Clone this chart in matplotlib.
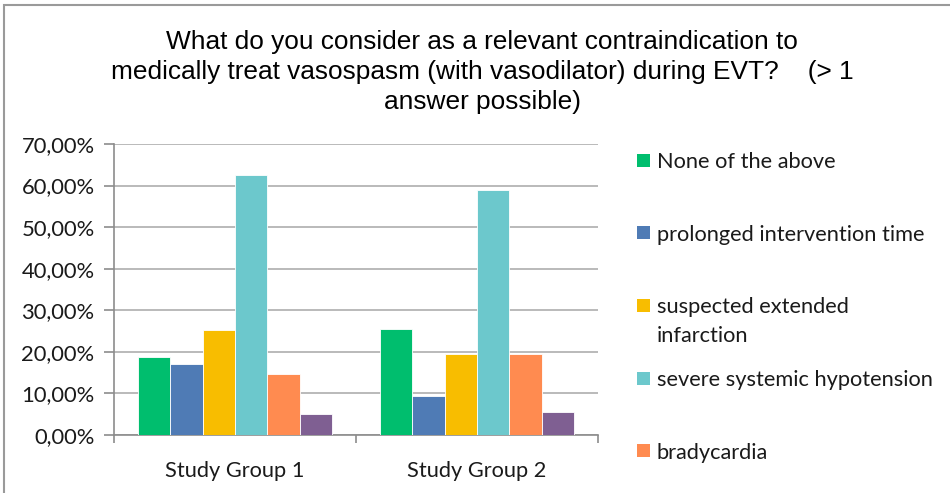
import matplotlib
matplotlib.use("Agg")
import matplotlib.pyplot as plt
import numpy as np
from matplotlib.patches import Rectangle

categories = ["Study Group 1", "Study Group 2"]
series_labels = ["None of the above", "prolonged intervention time",
                 "suspected extended\ninfarction", "severe systemic hypotension",
                 "bradycardia", "other"]
none_above = [18.75, 25.5]
prolonged_time = [17.1, 9.4]
extended_infarction = [25.2, 19.5]
hypotension = [62.5, 58.9]
bradycardia = [14.7, 19.5]
other = [5.0, 5.5]
series_values = [none_above, prolonged_time, extended_infarction, hypotension, bradycardia, other]
colors = ["#00BE6E", "#4F7BB5", "#F8BD00", "#6CC8CC", "#FF8B50", "#7F5F92"]
yticks = [0, 10, 20, 30, 40, 50, 60, 70]
ytick_labels = ["0,00%", "10,00%", "20,00%", "30,00%", "40,00%", "50,00%", "60,00%", "70,00%"]
title_lines = ["What do you consider as a relevant contraindication to",
               "medically treat vasospasm (with vasodilator) during EVT?    (> 1",
               "answer possible)"]

body_font = "Lato"
W, H = 950, 493
fig = plt.figure(figsize=(9.5, 4.93), dpi=100)
fig.patches.append(Rectangle((4/W, -0.5), 1.5, 1 - 5/H + 0.5, transform=fig.transFigure,
                             fill=False, edgecolor="#9a9a9a", linewidth=1.5))
ax = fig.add_axes([114/W, 1 - 435/H, (598-114)/W, (435-144)/H])

n = len(series_values)
w = 0.8 / n
x = np.arange(len(categories))
for i, (vals, c) in enumerate(zip(series_values, colors)):
    ax.bar(x - 0.4 + w * (i + 0.5), vals, width=w, color=c, edgecolor="white",
           linewidth=0.6, zorder=3)

ax.set_xlim(-0.5, len(categories) - 0.5)
ax.set_ylim(0, 70)
ax.set_yticks(yticks)
ax.set_yticklabels(ytick_labels, fontsize=15.8, family=body_font, color="#1a1a1a")
ax.set_xticks(x)
ax.set_xticklabels(categories, fontsize=15.7, family=body_font, color="#1a1a1a")
ax.tick_params(axis="x", length=0, pad=19)
ax.set_xticks(np.arange(len(categories) + 1) - 0.5, minor=True)
ax.tick_params(axis="x", which="minor", length=6, color="#8c8c8c", width=1.2)
ax.tick_params(axis="y", length=7, color="#8c8c8c", width=1.2, pad=7)
ax.grid(axis="y", color="#b4b4b4", linewidth=1.3, zorder=0)
for s in ["top", "right"]:
    ax.spines[s].set_visible(False)
for s in ["left", "bottom"]:
    ax.spines[s].set_color("#8c8c8c")
    ax.spines[s].set_linewidth(1.2)

# title, one line at a time (line pitch as in the original)
for j, line in enumerate(title_lines):
    fig.text(482/W, 1 - (40 + 29.5 * j)/H, line, ha="center", va="center_baseline",
             fontsize=18.9, family="Liberation Sans", color="#000000")

# legend laid out like the original; entries falling below the figure are not visible there
leg_x, leg_y0, leg_step, box, line_step = 637, 160, 72.7, 13, 29
for i, (lab, c) in enumerate(zip(series_labels, colors)):
    yc = leg_y0 + i * leg_step
    if yc + box / 2 > H:
        continue
    fig.patches.append(Rectangle((leg_x/W, 1 - (yc + box/2)/H), box/W, box/H,
                                 transform=fig.transFigure, facecolor=c, edgecolor="none"))
    for j, part in enumerate(lab.split("\n")):
        fig.text((leg_x + box + 7)/W, 1 - (yc + j * line_step)/H, part, ha="left",
                 va="center_baseline", fontsize=15.7, family=body_font, color="#1a1a1a")

fig.savefig("out.png", dpi=100)
